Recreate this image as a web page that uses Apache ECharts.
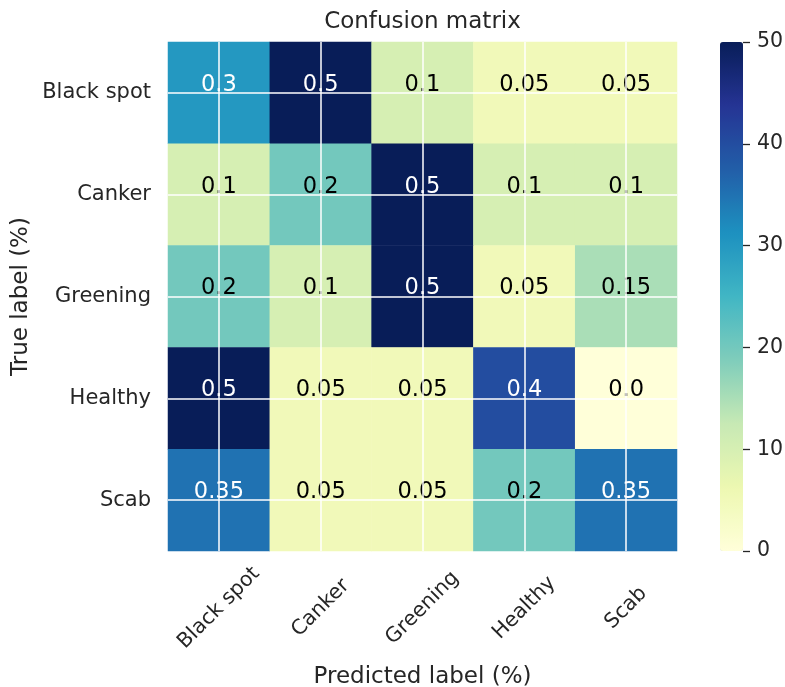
<!DOCTYPE html>
<html>
<head>
<meta charset="utf-8">
<script src="https://cdn.jsdelivr.net/npm/echarts@6/dist/echarts.min.js"></script>
<style>
html,body{margin:0;padding:0;background:#fff;}
#chart{width:785px;height:687px;}
</style>
</head>
<body>
<div id="chart"></div>
<script>
// ---- data ----
var predictedLabels = ['Black spot', 'Canker', 'Greening', 'Healthy', 'Scab'];
var trueLabels = ['Black spot', 'Canker', 'Greening', 'Healthy', 'Scab'];
var rowBlackSpot = [0.3, 0.5, 0.1, 0.05, 0.05];
var rowCanker = [0.1, 0.2, 0.5, 0.1, 0.1];
var rowGreening = [0.2, 0.1, 0.5, 0.05, 0.15];
var rowHealthy = [0.5, 0.05, 0.05, 0.4, 0.0];
var rowScab = [0.35, 0.05, 0.05, 0.2, 0.35];
var colorbarTicks = [0, 10, 20, 30, 40, 50];

var matrix = [rowBlackSpot, rowCanker, rowGreening, rowHealthy, rowScab];
var ylgnbu = ['#ffffd9', '#edf8b1', '#c7e9b4', '#7fcdbb', '#41b6c4', '#1d91c0', '#225ea8', '#253494', '#081d58'];
var FONT = 'DejaVu Sans';
var TXT = '#262626';

var maxVal = 0;
matrix.forEach(function (r) { r.forEach(function (v) { if (v > maxVal) maxVal = v; }); });
var thresh = maxVal / 2;

var heatData = [];
matrix.forEach(function (row, i) {
  row.forEach(function (v, j) {
    heatData.push({
      value: [j, i, v * 100, v],
      label: { color: v > thresh ? '#ffffff' : '#000000' }
    });
  });
});

function fmt(v) {
  return Number.isInteger(v) ? v.toFixed(1) : String(v);
}

var chart = echarts.init(document.getElementById('chart'), null, { renderer: 'canvas' });
var option = {
  backgroundColor: '#ffffff',
  animation: false,
  title: {
    text: 'Confusion matrix',
    left: 422.5,
    textAlign: 'center',
    top: 11,
    padding: 0,
    textStyle: { fontFamily: FONT, fontSize: 23, fontWeight: 'normal', color: TXT }
  },
  grid: [
    { left: 168, top: 42, width: 509, height: 509, containLabel: false, outerBoundsMode: 'none' },
    { left: 720, top: 42, width: 23, height: 509, containLabel: false, outerBoundsMode: 'none' }
  ],
  xAxis: [
    {
      type: 'category',
      gridIndex: 0,
      data: predictedLabels,
      axisLine: { show: false },
      axisTick: { show: false },
      splitLine: { show: false },
      axisLabel: {
        rotate: 45, align: 'center', verticalAlign: 'middle', margin: 57,
        fontFamily: FONT, fontSize: 20.5, color: TXT, interval: 0
      },
      name: 'Predicted label (%)',
      nameLocation: 'middle',
      nameGap: 115,
      nameMoveOverlap: false,
      nameTextStyle: { fontFamily: FONT, fontSize: 23, color: TXT }
    },
    {
      type: 'value', gridIndex: 1, min: 0, max: 1, show: false
    }
  ],
  yAxis: [
    {
      type: 'category',
      gridIndex: 0,
      data: trueLabels,
      inverse: true,
      axisLine: { show: false },
      axisTick: { show: false },
      splitLine: { show: false },
      axisLabel: { margin: 17, fontFamily: FONT, fontSize: 21, color: TXT, interval: 0 },
      name: 'True label (%)',
      nameLocation: 'middle',
      nameGap: 135,
      nameMoveOverlap: false,
      nameTextStyle: { fontFamily: FONT, fontSize: 23, color: TXT }
    },
    {
      type: 'value',
      gridIndex: 1,
      position: 'right',
      z: 20,
      min: colorbarTicks[0],
      max: colorbarTicks[colorbarTicks.length - 1],
      interval: colorbarTicks[1] - colorbarTicks[0],
      axisLine: { show: true, onZero: false, lineStyle: { color: 'rgba(0,0,0,0)', width: 1 } },
      axisTick: { show: true, inside: false, length: 7, lineStyle: { color: TXT, width: 1.3 } },
      splitLine: { show: false },
      axisLabel: { margin: 14, fontFamily: FONT, fontSize: 20.5, color: TXT }
    }
  ],
  visualMap: {
    type: 'continuous',
    seriesIndex: 0,
    dimension: 2,
    min: colorbarTicks[0],
    max: colorbarTicks[colorbarTicks.length - 1],
    calculable: false,
    realtime: false,
    hoverLink: false,
    left: 720,
    top: 42,
    padding: 0,
    itemWidth: 23,
    itemHeight: 509,
    text: ['', ''],
    showLabel: false,
    z: 1,
    inRange: { color: ylgnbu }
  },
  series: [
    {
      type: 'heatmap',
      xAxisIndex: 0,
      yAxisIndex: 0,
      data: heatData,
      itemStyle: { borderWidth: 0 },
      emphasis: { disabled: true },
      label: {
        show: true,
        offset: [0, -8],
        fontFamily: FONT,
        fontSize: 22.5,
        formatter: function (p) { return fmt(p.value[3]); }
      },
      markLine: {
        silent: true,
        symbol: ['none', 'none'],
        animation: false,
        label: { show: false },
        lineStyle: { color: '#ffffff', width: 1.5, type: 'solid', opacity: 1 },
        emphasis: { disabled: true },
        data: predictedLabels.map(function (c) { return { xAxis: c }; })
          .concat(trueLabels.map(function (c) { return { yAxis: c }; }))
      }
    }
  ]
};
chart.setOption(option);
</script>
</body>
</html>
